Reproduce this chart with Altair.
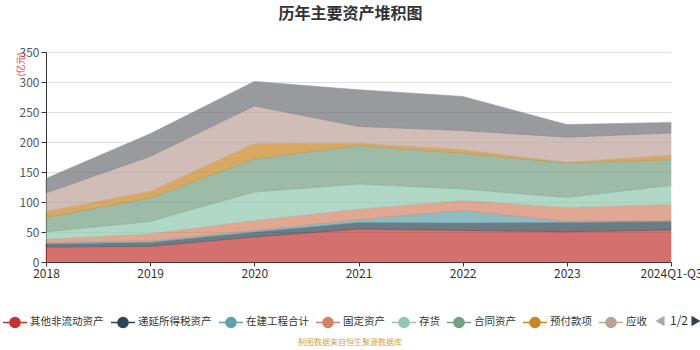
import altair as alt
import pandas as pd

years = ["2018", "2019", "2020", "2021", "2022", "2023", "2024Q1-Q3"]
series = ["其他非流动资产", "递延所得税资产", "在建工程合计", "固定资产", "存货",
          "合同资产", "预付款项", "应收账款", "货币资金"]
colors = ["#c23531", "#2f4554", "#61a0a8", "#d48265", "#91c7ae",
          "#749f83", "#ca8622", "#bda29a", "#6e7074"]

v_other_noncurrent = [25.0, 26.0, 41.7, 55.0, 52.7, 50.5, 53.3]
v_deferred_tax = [5.5, 6.7, 8.3, 11.0, 12.3, 15.5, 14.4]
v_construction = [2.2, 2.3, 2.7, 4.5, 21.0, 1.7, 1.3]
v_fixed = [5.5, 12.0, 16.6, 17.5, 16.7, 23.3, 27.0]
v_inventory = [12.0, 20.7, 47.4, 42.0, 19.0, 16.7, 31.7]
v_contract = [24.0, 39.0, 55.0, 64.0, 59.3, 57.3, 42.8]
v_prepaid = [10.0, 11.0, 25.3, 4.0, 6.0, 1.0, 7.5]
v_receivable = [31.0, 58.3, 63.0, 28.0, 32.0, 42.0, 37.0]
v_cash = [24.0, 37.8, 41.0, 61.0, 57.0, 21.0, 17.7]

all_values = [v_other_noncurrent, v_deferred_tax, v_construction, v_fixed, v_inventory,
              v_contract, v_prepaid, v_receivable, v_cash]

legend_shown = series[:8]
y_ticks = [0, 50, 100, 150, 200, 250, 300, 350]
title_text = "历年主要资产堆积图"
unit_text = "(亿元)"
source_text = ["制图数据来自恒生聚源数据库"]
pager_text = ["1/2"]

rows = []
for i, (name, vals) in enumerate(zip(series, all_values)):
    for y, v in zip(years, vals):
        rows.append({"year": y, "series": name, "value": v, "idx": i})
df = pd.DataFrame(rows)

FONT = "Noto Sans CJK SC"

sym_path = ("M-1,0L1,0M0.42,0A0.42,0.42,0,1,1,-0.42,0"
            "A0.42,0.42,0,1,1,0.42,0Z")

legend = alt.Legend(
    title=None, orient="none", legendX=-44, legendY=257,
    direction="horizontal", columns=8, values=legend_shown,
    symbolType=sym_path, symbolSize=576, symbolStrokeWidth=1.5,
    symbolOpacity=1, labelFontSize=10.5, labelColor="#333",
    labelFont=FONT, labelOffset=2, columnPadding=4,
    labelExpr="datum.label == '应收账款' ? '应收' : datum.label",
)
color_scale = alt.Scale(domain=series, range=colors)

area = alt.Chart(df).mark_area(opacity=0.7, strokeWidth=0.6).encode(
    x=alt.X("year:N", sort=years, scale=alt.Scale(padding=0),
            axis=alt.Axis(title=None, labelAngle=0, grid=False,
                          domainColor="#333", tickColor="#333",
                          labelColor="#333", labelFontSize=12,
                          tickSize=4, labelPadding=2, labelFont=FONT)),
    y=alt.Y("value:Q", stack="zero",
            scale=alt.Scale(domain=[0, 350], nice=False),
            axis=alt.Axis(values=y_ticks, title=unit_text,
                          titleColor="#ff3333", titleFontSize=9,
                          titleFontWeight="normal", titleAngle=-90,
                          titleX=-26, titleY=0, titleAlign="right",
                          titleBaseline="middle", titleFont=FONT,
                          domainColor="#333", tickColor="#333",
                          labelColor="#555", labelFontSize=12,
                          gridColor="#e0e0e0", tickSize=5,
                          labelPadding=2, labelFont=FONT)),
    fill=alt.Fill("series:N", sort=series, scale=color_scale, legend=legend),
    stroke=alt.Stroke("series:N", sort=series, scale=color_scale, legend=legend),
    order=alt.Order("idx:Q"),
)

src = alt.Chart(pd.DataFrame({"t": source_text})).mark_text(
    fontSize=8, color="#d6a350", font=FONT
).encode(x=alt.value(304), y=alt.value(291), text="t:N")

pager = alt.Chart(pd.DataFrame({"t": pager_text})).mark_text(
    fontSize=12, color="#333", font=FONT
).encode(x=alt.value(633), y=alt.value(269), text="t:N")

arrows = alt.Chart(pd.DataFrame({"s": ["triangle-left", "triangle-right"],
                                 "c": ["#aaaaaa", "#2f4554"],
                                 "px": [614, 650]})).mark_point(
    filled=True, size=110, opacity=1
).encode(x=alt.X("px:Q", scale=None), y=alt.value(269),
         shape=alt.Shape("s:N", scale=None),
         color=alt.Color("c:N", scale=None))

chart = alt.layer(area, src, pager, arrows).properties(
    width=625, height=210,
    title=alt.Title(title_text, fontSize=16, fontWeight="bold", color="#333",
                    anchor="middle", dx=-8, offset=24, font=FONT),
    autosize=alt.AutoSizeParams(type="none"),
    padding={"left": 46, "top": 52, "right": 29, "bottom": 88},
).resolve_scale(color="independent", shape="independent").configure_view(stroke=None)

chart.save("out.html", embed_options={"renderer": "svg", "actions": False})
